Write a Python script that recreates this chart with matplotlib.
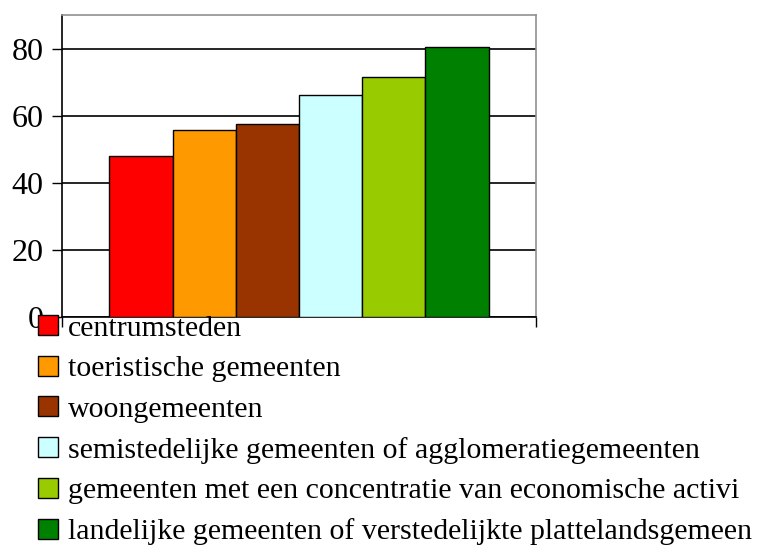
import matplotlib.pyplot as plt
from matplotlib.patches import Patch

# values
categories = [
    "centrumsteden",
    "toeristische gemeenten",
    "woongemeenten",
    "semistedelijke gemeenten of agglomeratiegemeenten",
    "gemeenten met een concentratie van economische activi",
    "landelijke gemeenten of verstedelijkte plattelandsgemeen",
]
values = [48.1, 55.7, 57.6, 66.1, 71.4, 80.5]
colors = ["#FF0000", "#FF9900", "#993300", "#CCFFFF", "#99CC00", "#008000"]
yticks = [0, 20, 40, 60, 80]

plt.rcParams['font.family'] = ['Liberation Serif', 'DejaVu Serif']

fig = plt.figure(figsize=(7.57, 5.48), dpi=100)
ax = fig.add_axes([62 / 757, 1 - 317.3 / 548, 474 / 757, 302.3 / 548])

n = len(values)
w = 0.8 / n
for i, (v, c) in enumerate(zip(values, colors)):
    ax.bar(-0.4 + w * (i + 0.5), v, width=w, color=c, edgecolor='black',
           linewidth=1.0, zorder=3)

ax.set_xlim(-0.5, 0.5)
ax.set_ylim(0, 90)
ax.set_yticks(yticks)
ax.set_yticklabels([str(t) for t in yticks], fontsize=23)
ax.set_xticks([-0.5, 0.5])
ax.set_xticklabels([])
ax.tick_params(axis='y', direction='out', length=7.2, width=1, pad=6)
ax.tick_params(axis='x', direction='out', length=7.2, width=1)
ax.yaxis.grid(True, color='black', linewidth=1.2, zorder=0)
ax.set_axisbelow(True)

for s in ['top', 'right']:
    ax.spines[s].set_color('#909090')
    ax.spines[s].set_linewidth(1.2)
for s in ['left', 'bottom']:
    ax.spines[s].set_color('black')
    ax.spines[s].set_linewidth(1.2)

handles = [Patch(facecolor=c, edgecolor='black', linewidth=1.0) for c in colors]
fig.legend(handles, categories, loc='upper left',
           bbox_to_anchor=(38 / 757, 1 - 315 / 548),
           frameon=False, fontsize=21.5, handlelength=0.66, handleheight=0.66,
           handletextpad=0.33, labelspacing=0.47, borderaxespad=0,
           borderpad=0)

fig.savefig('out.png', dpi=100)
